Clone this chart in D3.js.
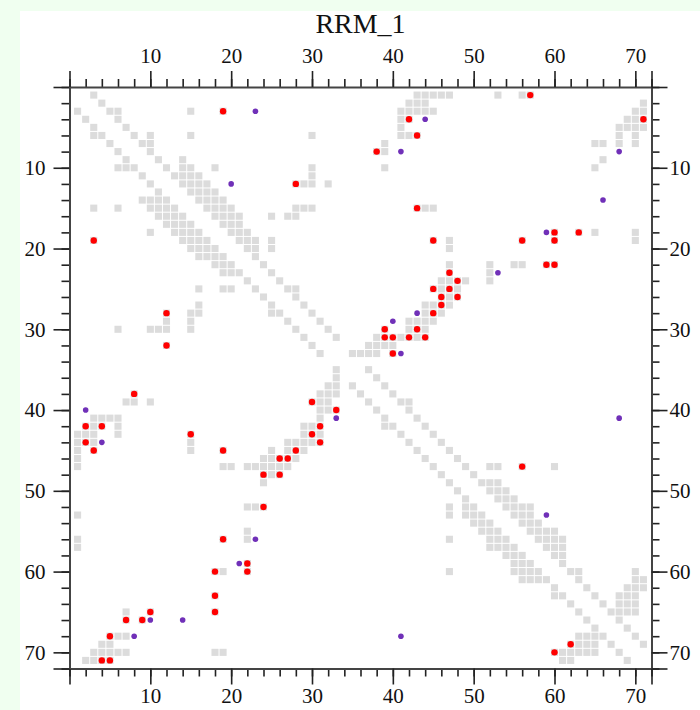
<!DOCTYPE html>
<html>
<head>
<meta charset="utf-8">
<script src="https://cdn.jsdelivr.net/npm/d3@7"></script>
<style>
  html, body { margin: 0; padding: 0; background: #f0fff0; }
  text { font-family: "Liberation Serif", "Times New Roman", serif; }
</style>
</head>
<body>
<div id="chart"></div>
<script>
// residues along both axes
const nRes = 71;

// gray contacts, upper triangle only: entry i lists the columns j > i for row i+1
const upperContacts = [
  [3,43,44,45,46,47,53,56,57],
  [4,42,43,44,71],
  [5,6,15,19,41,42,43,44,45,70,71],
  [6,41,42,69,70,71],
  [7,41,68,69,70,71],
  [8,10,15,30,41,42,43,68,70],
  [9,10,39,65,66,68,70],
  [10,38,39],
  [11,14,66],
  [12,14,15,18,30,39,65],
  [13,14,15,16,30],
  [14,15,16,17,28,29,30,32],
  [15,16,17,18],
  [16,17,18,19],
  [17,18,19,20,28,29,30,43,44,45],
  [18,19,20,21,25,27,28],
  [19,20,21],
  [20,21,22,60,63,65,70],
  [21,22,23,25,45,47,56,60,70],
  [22,23,25,47],
  [23],
  [24,47,52,55,56,59,60],
  [25,47,52],
  [26,46,47,48,49,52],
  [27,28,45,46,47,48],
  [28,46,47,48],
  [29,44,45,46,47],
  [30,44,45,46],
  [31,42,43,44,45],
  [32,39,42,43,44],
  [33,38,39,40,41,42,43,44],
  [37,38,39,40],
  [35,36,37,38,40],
  [],
  [37],
  [38],
  [39],
  [40],
  [41,42],
  [42],
  [43],
  [44],
  [45],
  [46],
  [47],
  [48],
  [49,52,53,56,60],
  [50],
  [51,52,53],
  [52,53,54],
  [53,54,55],
  [54,55,56,57],
  [55,56,57],
  [56,57,58],
  [57,58,59,60],
  [58,59,60,61],
  [59,60,61],
  [60,61],
  [61],
  [62,63,70],
  [63,70,71],
  [64,69,70,71],
  [65,68,69,70],
  [66,68,69,70],
  [67,68,69,70],
  [68],
  [69],
  [70],
  [71],
  [],
  []
];

// [column, row]
const redDots = [
  [57,1],[19,3],[42,4],[71,4],[43,6],[38,8],[28,12],[43,15],[60,18],[63,18],
  [45,19],[56,19],[60,19],[59,22],[60,22],[47,23],[48,24],[45,25],[47,25],
  [46,26],[48,26],[46,27],[45,28],[39,30],[43,30],[39,31],[40,31],[42,31],
  [44,31],[40,33],[56,47],[62,69],[60,70],
  [3,19],[12,28],[12,32],[8,38],[30,39],[33,40],[2,42],[4,42],[31,42],
  [15,43],[30,43],[2,44],[31,44],[3,45],[19,45],[28,45],[26,46],[27,46],
  [24,48],[26,48],[24,52],[19,56],[22,59],[18,60],[22,60],[18,63],[10,65],
  [18,65],[7,66],[9,66],[5,68],[4,71],[5,71]
];

const purpleDots = [
  [23,3],[44,4],[41,8],[68,8],[20,12],[66,14],[59,18],[53,23],[43,28],
  [40,29],[41,33],[68,41],[59,53],
  [2,40],[33,41],[4,44],[23,56],[21,59],[10,66],[14,66],[8,68],[41,68]
];

const axisMax = 72;
const majorTicks = [0, 10, 20, 30, 40, 50, 60, 70, 72];
const minorTicks = d3.range(0, axisMax + 1, 2);
const tickLabels = [10, 20, 30, 40, 50, 60, 70];

const width = 700, height = 710;

const svg = d3.select('#chart').append('svg')
  .attr('width', width)
  .attr('height', height);

svg.append('rect')
  .attr('x', 20).attr('y', 11)
  .attr('width', width - 20).attr('height', height - 11)
  .attr('fill', '#ffffff');

const x = d3.scaleLinear().domain([0, axisMax]).range([69.5, 651.5]);
const y = d3.scaleLinear().domain([0, axisMax]).range([87, 668.5]);

// mirror the upper triangle to get the full symmetric map
const cells = [];
upperContacts.forEach((cols, i) => {
  cols.forEach(j => {
    cells.push([j, i + 1]);
    cells.push([i + 1, j]);
  });
});

const cw = x(1) - x(0);
const ch = y(1) - y(0);

svg.append('g').selectAll('rect')
  .data(cells)
  .enter()
  .append('rect')
  .attr('x', d => x(d[0] - 0.5) + 0.5)
  .attr('y', d => y(d[1] - 0.5) + 0.5)
  .attr('width', cw - 1)
  .attr('height', ch - 1)
  .attr('fill', '#dcdcdc');

svg.append('g').selectAll('circle')
  .data(purpleDots)
  .enter()
  .append('circle')
  .attr('cx', d => x(d[0]))
  .attr('cy', d => y(d[1]))
  .attr('r', 2.8)
  .attr('fill', '#7030b8');

svg.append('g').selectAll('circle')
  .data(redDots)
  .enter()
  .append('circle')
  .attr('cx', d => x(d[0]))
  .attr('cy', d => y(d[1]))
  .attr('r', 3.2)
  .attr('fill', '#ff0000');

const fmt = d => tickLabels.includes(d) ? d : '';

const drawAxis = (maker, scale, transform, pad) => {
  const minor = svg.append('g')
    .attr('transform', transform)
    .call(maker(scale).tickValues(minorTicks).tickSize(8).tickSizeOuter(0).tickFormat(''));
  minor.select('.domain').remove();

  const major = svg.append('g')
    .attr('transform', transform)
    .call(maker(scale).tickValues(majorTicks).tickSize(16).tickSizeOuter(0)
      .tickPadding(pad).tickFormat(fmt));

  [minor, major].forEach(g => {
    g.selectAll('.tick line').attr('stroke', '#222').attr('stroke-width', 1.6);
    g.selectAll('.tick text')
      .attr('fill', '#111')
      .style('font-size', '21px')
      .style('font-family', '"Liberation Serif", serif');
  });
  major.select('.domain').attr('stroke', '#444').attr('stroke-width', 2);
};

drawAxis(d3.axisTop, x, `translate(0,${y(0)})`, 8);
drawAxis(d3.axisBottom, x, `translate(0,${y(axisMax)})`, 4);
drawAxis(d3.axisLeft, y, `translate(${x(0)},0)`, 8);
drawAxis(d3.axisRight, y, `translate(${x(axisMax)},0)`, 2);

svg.append('text')
  .attr('x', (x(0) + x(axisMax)) / 2)
  .attr('y', 33)
  .attr('text-anchor', 'middle')
  .style('font-size', '28px')
  .attr('fill', '#111')
  .text('RRM_1');
</script>
</body>
</html>
